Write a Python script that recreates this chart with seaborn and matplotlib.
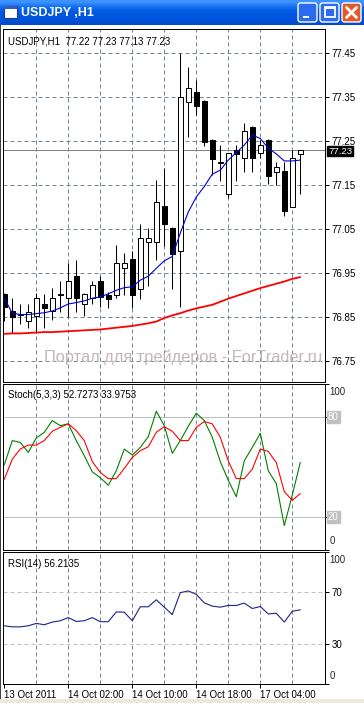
#!/usr/bin/env python3
import matplotlib
matplotlib.use("Agg")
import matplotlib.pyplot as plt
from matplotlib.patches import FancyBboxPatch, Rectangle
import seaborn as sns
import numpy as np

# figure size in pixels (dpi 100)
W, H = 364, 703

# --- chart data ---
bars = list(range(38))
opens = [76.902, 76.864, 76.855, 76.841, 76.852, 76.880, 76.864, 76.900, 76.892, 76.942,
         76.880, 76.892, 76.931, 76.899, 76.899, 76.961, 76.981, 76.912, 77.020, 77.020,
         77.102, 77.051, 77.000, 77.339, 77.360, 77.340, 77.252, 77.200, 77.130, 77.230,
         77.210, 77.282, 77.221, 77.252, 77.180, 77.182, 77.100, 77.220]
highs = [76.905, 76.893, 76.880, 76.880, 76.903, 76.902, 76.915, 76.931, 76.971, 76.980,
         76.903, 76.931, 76.942, 76.907, 77.013, 76.994, 77.000, 77.061, 77.051, 77.161,
         77.189, 77.055, 77.450, 77.418, 77.389, 77.342, 77.254, 77.240, 77.222, 77.240,
         77.291, 77.284, 77.252, 77.254, 77.202, 77.202, 77.230, 77.230]
lows = [76.841, 76.814, 76.833, 76.824, 76.812, 76.824, 76.843, 76.861, 76.850, 76.861,
        76.852, 76.880, 76.873, 76.869, 76.892, 76.899, 76.869, 76.890, 76.920, 76.979,
        77.011, 76.912, 76.871, 77.259, 77.308, 77.238, 77.172, 77.159, 77.120, 77.159,
        77.180, 77.180, 77.210, 77.151, 77.149, 77.080, 77.100, 77.130]
closes = [76.873, 76.850, 76.857, 76.861, 76.892, 76.870, 76.892, 76.902, 76.931, 76.892,
          76.902, 76.922, 76.895, 76.890, 76.971, 76.971, 76.899, 77.030, 77.030, 77.110,
          77.060, 76.992, 77.350, 77.369, 77.330, 77.248, 77.208, 77.202, 77.221, 77.220,
          77.272, 77.210, 77.240, 77.170, 77.190, 77.091, 77.210, 77.230]
ma_fast = [76.892, 76.858, 76.855, 76.855, 76.857, 76.859, 76.863, 76.870, 76.879, 76.882,
           76.886, 76.892, 76.895, 76.902, 76.910, 76.916, 76.918, 76.933, 76.942, 76.960,
           76.977, 76.987, 77.040, 77.088, 77.122, 77.146, 77.174, 77.183, 77.206, 77.223,
           77.240, 77.263, 77.255, 77.233, 77.220, 77.204, 77.204, 77.206]
ma_slow = [76.811, 76.812, 76.812, 76.813, 76.814, 76.815, 76.815, 76.816, 76.817, 76.818,
           76.819, 76.820, 76.821, 76.823, 76.825, 76.827, 76.829, 76.832, 76.835, 76.839,
           76.847, 76.853, 76.858, 76.864, 76.869, 76.873, 76.877, 76.884, 76.891, 76.897,
           76.903, 76.909, 76.915, 76.920, 76.925, 76.930, 76.936, 76.940]
stoch_k = [51.3, 65.9, 64.8, 58.8, 67.5, 70.9, 78.0, 74.9, 76.0, 65.9,
           56.8, 47.1, 43.6, 39.0, 47.7, 60.8, 57.2, 61.8, 68.3, 83.6,
           74.9, 58.2, 65.9, 74.5, 82.4, 78.0, 67.9, 53.3, 42.0, 32.1,
           53.7, 61.8, 70.3, 47.7, 40.0, 14.7, 33.1, 52.7273]
stoch_d = [42.6, 54.7, 60.8, 63.2, 63.2, 65.9, 71.5, 73.9, 76.0, 71.9,
           65.9, 53.3, 46.7, 43.0, 43.0, 49.1, 55.8, 59.8, 62.2, 70.9,
           74.3, 71.5, 65.9, 65.9, 73.9, 77.4, 76.0, 67.9, 53.7, 43.0,
           43.0, 48.7, 60.8, 59.4, 52.7, 35.2, 29.9, 33.9753]
rsi = [44.1, 43.3, 43.3, 44.1, 45.9, 44.9, 46.9, 47.9, 50.3, 47.4,
       47.9, 50.3, 47.2, 47.2, 54.6, 54.4, 47.9, 58.5, 58.5, 63.8,
       58.2, 52.6, 69.2, 70.5, 67.9, 61.5, 59.0, 58.2, 59.5, 59.5,
       61.3, 57.2, 58.7, 53.1, 53.6, 46.9, 55.1, 56.2135]

price_ticks = [76.75, 76.85, 76.95, 77.05, 77.15, 77.25, 77.35, 77.45]
last_price = 77.23
date_pos = [0, 8, 16, 24, 32]
date_labels = ["13 Oct 2011", "14 Oct 02:00", "14 Oct 10:00", "14 Oct 18:00", "17 Oct 04:00"]
grid_pos = [4, 8, 12, 16, 20, 24, 28, 32, 36]

sns.set_style("white")
plt.rcParams['font.family'] = ['Liberation Sans', 'DejaVu Sans']

GRID = '#778899'
DASH = (0, (4, 3))
LW = 0.72
XLIM = (-0.16, 40.09)


def box(x0, y0, x1, y1):
    """pixel box (top-left origin) -> figure fraction rect"""
    return [x0 / W, 1 - y1 / H, (x1 - x0) / W, (y1 - y0) / H]


def frame(ax):
    ax.set_xlim(*XLIM)
    for s in ax.spines.values():
        s.set_color('black')
        s.set_linewidth(LW)
    ax.set_xticks([])
    ax.yaxis.tick_right()
    ax.tick_params(axis='y', length=3, width=LW, pad=1.5, labelsize=7, colors='black')
    for g in grid_pos:
        ax.axvline(g, color=GRID, lw=LW, ls=DASH, zorder=0)
    ax.set_xlabel("")
    ax.set_ylabel("")


fig = plt.figure(figsize=(W / 100, H / 100), dpi=100, facecolor='white')

# ---------------- main price window ----------------
ax = fig.add_axes(box(3, 29, 325, 382))
frame(ax)
ax.set_ylim(76.7016, 77.5039)
ax.set_yticks(price_ticks, [f"{t:.2f}" for t in price_ticks])
for t in price_ticks:
    ax.axhline(t, color=GRID, lw=LW, ls=DASH, zorder=0)
ax.axhline(last_price, color='#808080', lw=LW, zorder=1)

o = np.array(opens); c = np.array(closes)
bottoms = np.minimum(o, c)
heights = np.maximum(np.abs(c - o), 0.0004)
faces = ['white' if cc >= oo else 'black' for oo, cc in zip(o, c)]
ax.vlines(bars, lows, highs, color='black', lw=LW, zorder=2)
ax.bar(bars, heights, bottom=bottoms, width=0.6, color=faces,
       edgecolor='black', linewidth=LW, zorder=3)

sns.lineplot(x=bars, y=ma_slow, ax=ax, color='#ff0000', lw=1.3, zorder=4)
sns.lineplot(x=bars, y=ma_fast, ax=ax, color='#0000dd', lw=0.8, zorder=5)
ax.set_xlabel(""); ax.set_ylabel("")

ax.text(0.016, 0.978, "USDJPY,H1  77.22 77.23 77.13 77.23", transform=ax.transAxes,
        ha='left', va='top', fontsize=7, color='black')
# current price box, nudged a pixel down so it clears the 77.25 label
ax.annotate(f"{last_price:.2f}", xy=(1.0095, last_price), xycoords=ax.get_yaxis_transform(),
            xytext=(0, -1.2), textcoords='offset points', ha='left', va='center',
            fontsize=6.8, color='white', zorder=10, annotation_clip=False,
            bbox=dict(boxstyle='square,pad=0.08', fc='black', ec='black'))

# watermark, kept inside the chart frame
fig.text(44 / W, 1 - 357 / H, "Портал для трейдеров - ForTrader.ru", ha='left', va='center',
         fontsize=11.8, color='#c2b6b6', zorder=0)

# ---------------- stochastic ----------------
ax2 = fig.add_axes(box(3, 384, 325, 550))
frame(ax2)
ax2.set_ylim(0, 100)
ax2.set_yticks([0, 20, 80, 100], ["", "", "", ""])
ax2.axhline(80, color='#c0c0c0', lw=LW, zorder=1)
ax2.axhline(20, color='#c0c0c0', lw=LW, zorder=1)
sns.lineplot(x=bars, y=stoch_k, ax=ax2, color='#008000', lw=0.8, zorder=4)
sns.lineplot(x=bars, y=stoch_d, ax=ax2, color='#ff0000', lw=0.8, zorder=5)
ax2.set_xlabel(""); ax2.set_ylabel("")
ax2.text(0.016, 0.965, "Stoch(5,3,3) 52.7273 33.9753", transform=ax2.transAxes,
         ha='left', va='top', fontsize=7, color='black')
yt2 = ax2.get_yaxis_transform()
ax2.annotate("100", xy=(1, 100), xycoords=yt2, xytext=(3, -2.5), textcoords='offset points',
             ha='left', va='top', fontsize=7, annotation_clip=False)
ax2.annotate("0", xy=(1, 0), xycoords=yt2, xytext=(3, 3), textcoords='offset points',
             ha='left', va='bottom', fontsize=7, annotation_clip=False)
for lvl in (80, 20):
    ax2.text(1.0095, lvl, str(lvl), transform=yt2, ha='left', va='center', fontsize=7,
             color='white', clip_on=False,
             bbox=dict(boxstyle='square,pad=0.12', fc='#c0c0c0', ec='#c0c0c0'))

# ---------------- RSI ----------------
ax3 = fig.add_axes(box(3, 552, 325, 684))
frame(ax3)
ax3.set_ylim(0, 100)
ax3.set_yticks([0, 30, 70, 100], ["", "30", "70", ""])
ax3.axhline(70, color='#c0c0c0', lw=LW, ls=DASH, zorder=1)
ax3.axhline(30, color='#c0c0c0', lw=LW, ls=DASH, zorder=1)
sns.lineplot(x=bars, y=rsi, ax=ax3, color='#20208a', lw=0.8, zorder=4)
ax3.set_xlabel(""); ax3.set_ylabel("")
ax3.text(0.016, 0.95, "RSI(14) 56.2135", transform=ax3.transAxes,
         ha='left', va='top', fontsize=7, color='black')
yt3 = ax3.get_yaxis_transform()
ax3.annotate("100", xy=(1, 100), xycoords=yt3, xytext=(3, -2.5), textcoords='offset points',
             ha='left', va='top', fontsize=7, annotation_clip=False)
ax3.annotate("0", xy=(1, 0), xycoords=yt3, xytext=(3, 2), textcoords='offset points',
             ha='left', va='bottom', fontsize=7, annotation_clip=False)
ax3.set_xticks(date_pos, date_labels)
ax3.tick_params(axis='x', length=3, width=LW, pad=1, labelsize=7, colors='black', bottom=True)
for lbl in ax3.get_xticklabels():
    lbl.set_ha('left')

# ---------------- window chrome ----------------
tb = fig.add_axes([0, 1 - 25 / H, 1, 25 / H])
grad = np.array([[0.24, 0.58, 1.0], [0.10, 0.45, 0.95], [0.02, 0.37, 0.90],
                 [0.00, 0.33, 0.88], [0.00, 0.33, 0.86], [0.00, 0.30, 0.82]])
tb.imshow(grad[:, None, :], aspect='auto', extent=(0, W, 25, 0), interpolation='bilinear')
tb.set_xlim(0, W); tb.set_ylim(25, 0)
tb.axis('off')
tb.add_patch(Rectangle((4, 6), 13, 12, fc='white', ec='#1b3f8f', lw=0.8))
tb.add_patch(Rectangle((4, 6), 13, 3, fc='#3060c0', ec='none'))
tb.text(21, 12.5, "USDJPY ,H1", color='white', fontsize=9, fontweight='bold',
        ha='left', va='center')
for bx, fc in ((298, '#2a6cf0'), (320, '#2a6cf0'), (342, '#e05a2a')):
    tb.add_patch(FancyBboxPatch((bx, 3), 19, 19, boxstyle='round,pad=0,rounding_size=2.5',
                                fc=fc, ec='white', lw=1))
tb.add_patch(Rectangle((303, 15.5), 6, 2.5, fc='white', ec='none'))
tb.add_patch(Rectangle((324.5, 7), 10, 10, fc='none', ec='white', lw=1.3))
tb.add_patch(Rectangle((324.5, 7), 10, 1.5, fc='white', ec='none'))
tb.plot([346.5, 356.5], [7.5, 17.5], color='white', lw=2)
tb.plot([346.5, 356.5], [17.5, 7.5], color='white', lw=2)

fig.add_artist(Rectangle((0, 0), 1, 4 / H, transform=fig.transFigure,
                         fc='#ece9d8', ec='none'))
fig.add_artist(Rectangle((0, 4 / H), 1.2 / W, 1 - 29 / H, transform=fig.transFigure,
                         fc='#404040', ec='none'))

fig.savefig("out.png", dpi=100, facecolor='white')
